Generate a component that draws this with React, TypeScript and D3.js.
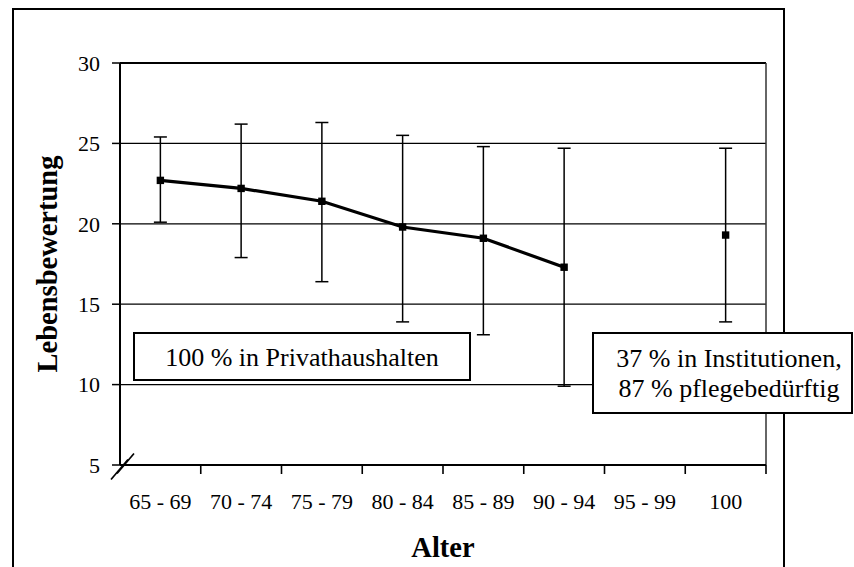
import React from "react";
import * as d3 from "d3";

// Age groups on the x axis
const categories = ["65 - 69", "70 - 74", "75 - 79", "80 - 84", "85 - 89", "90 - 94", "95 - 99", "100"];
// Mean life rating per age group (no data for 95 - 99)
const means: (number | null)[] = [22.7, 22.2, 21.4, 19.8, 19.1, 17.3, null, 19.3];
// Upper and lower ends of the error bars
const upper: (number | null)[] = [25.4, 26.2, 26.3, 25.5, 24.8, 24.7, null, 24.7];
const lower: (number | null)[] = [20.1, 17.9, 16.4, 13.9, 13.1, 9.9, null, 13.9];
// Y axis ticks
const yTicks = [5, 10, 15, 20, 25, 30];
// Last group is shown as a separate point
const connectedCount = 6;

const W = 854;
const H = 567;
const FONT = "'Liberation Serif', 'DejaVu Serif', serif";
const serif = { fontFamily: FONT };

export default function App() {
  const left = 120;
  const right = 766;
  const top = 63;
  const bottom = 465;

  const x = d3.scaleBand<string>().domain(categories).range([left, right]).padding(0);
  const y = d3.scaleLinear().domain([5, 30]).range([bottom, top]);
  const cx = (i: number) => (x(categories[i]) as number) + x.bandwidth() / 2;

  const pts = means.map((m, i) => ({ i, m }));
  const lineGen = d3
    .line<{ i: number; m: number | null }>()
    .defined((d) => d.m !== null && d.i < connectedCount)
    .x((d) => cx(d.i))
    .y((d) => y(d.m as number));

  const boundaries = categories.slice(1).map((c) => x(c) as number).concat([right]);

  return (
    <svg
      width={W}
      height={H}
      style={{ position: "absolute", left: 0, top: 0, background: "#fff", fontFamily: FONT }}
    >
      {/* outer frame */}
      <path d={`M13,${H + 10} L13,9 L784,9 L784,${H + 10}`} fill="none" stroke="#000" strokeWidth={2} />

      {/* horizontal gridlines */}
      {yTicks
        .filter((t) => t !== 5 && t !== 30)
        .map((t) => (
          <line key={t} x1={left} x2={right} y1={y(t)} y2={y(t)} stroke="#000" strokeWidth={1.3} />
        ))}

      {/* plot border: top and right */}
      <line x1={left} x2={right} y1={top} y2={top} stroke="#000" strokeWidth={2.2} />
      <line x1={right} x2={right} y1={top} y2={bottom} stroke="#333" strokeWidth={1.5} />

      {/* y axis */}
      <line x1={left} x2={left} y1={top} y2={bottom} stroke="#000" strokeWidth={2} />
      {yTicks.map((t) => (
        <g key={t}>
          <line x1={left - 8} x2={left} y1={y(t)} y2={y(t)} stroke="#000" strokeWidth={1.5} />
          <text x={100} y={y(t)} dy="0.35em" textAnchor="end" fontSize={22} style={serif}>
            {t}
          </text>
        </g>
      ))}

      {/* x axis */}
      <line x1={left} x2={right} y1={bottom} y2={bottom} stroke="#000" strokeWidth={2} />
      {boundaries.map((b, i) => (
        <line key={i} x1={b} x2={b} y1={bottom} y2={bottom + 9} stroke="#000" strokeWidth={1.6} />
      ))}
      {categories.map((c, i) => (
        <text key={c} x={cx(i)} y={509} textAnchor="middle" fontSize={22} style={serif}>
          {c}
        </text>
      ))}

      {/* axis break marks */}
      <line x1={111} y1={479.5} x2={128} y2={459.5} stroke="#000" strokeWidth={1.7} />
      <line x1={117} y1={473.5} x2={134} y2={453.5} stroke="#000" strokeWidth={1.7} />

      {/* error bars */}
      {means.map((m, i) =>
        m === null ? null : (
          <g key={i} stroke="#000" strokeWidth={1.5}>
            <line x1={cx(i)} x2={cx(i)} y1={y(upper[i] as number)} y2={y(lower[i] as number)} />
            <line x1={cx(i) - 6.5} x2={cx(i) + 6.5} y1={y(upper[i] as number)} y2={y(upper[i] as number)} />
            <line x1={cx(i) - 6.5} x2={cx(i) + 6.5} y1={y(lower[i] as number)} y2={y(lower[i] as number)} />
          </g>
        )
      )}

      {/* mean line */}
      <path d={lineGen(pts) || ""} fill="none" stroke="#000" strokeWidth={3.2} />
      {means.map((m, i) =>
        m === null ? null : (
          <rect key={i} x={cx(i) - 3.7} y={y(m) - 3.7} width={7.4} height={7.4} fill="#000" />
        )
      )}

      {/* annotation boxes */}
      <rect x={134} y={333} width={336} height={47} fill="#fff" stroke="#000" strokeWidth={2} />
      <text x={302} y={366} textAnchor="middle" fontSize={26} style={serif}>
        100 % in Privathaushalten
      </text>

      <rect x={593} y={333} width={259} height={80} fill="#fff" stroke="#000" strokeWidth={2} />
      <text x={729} y={367} textAnchor="middle" fontSize={26} style={serif}>
        37 % in Institutionen,
      </text>
      <text x={729} y={397} textAnchor="middle" fontSize={26} style={serif}>
        87 % pflegebedürftig
      </text>

      {/* axis titles */}
      <text x={443} y={557} textAnchor="middle" fontSize={28.5} fontWeight="bold" style={serif}>
        Alter
      </text>
      <text
        transform={`translate(57,${(top + bottom) / 2}) rotate(-90)`}
        textAnchor="middle"
        fontSize={28.5}
        fontWeight="bold"
        style={serif}
      >
        Lebensbewertung
      </text>
    </svg>
  );
}
